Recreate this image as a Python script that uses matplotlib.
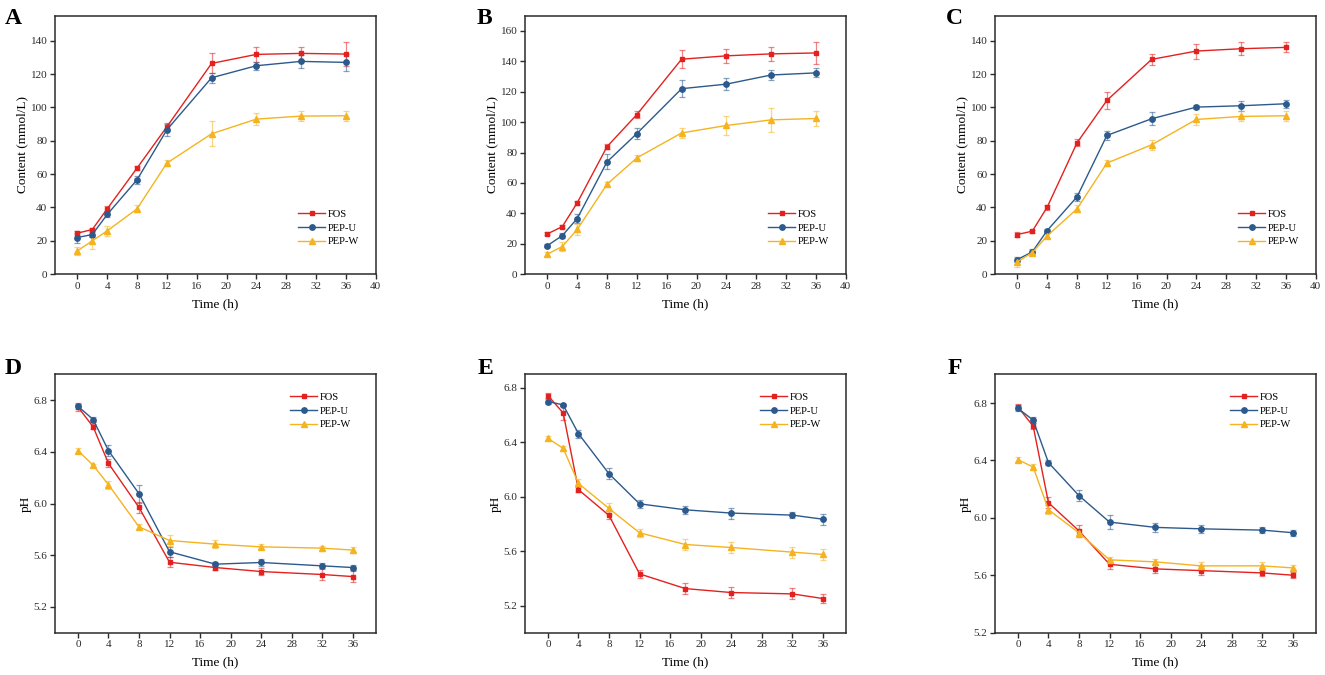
import matplotlib
matplotlib.use("Agg")
import matplotlib.pyplot as plt
from matplotlib.ticker import FormatStrFormatter

plt.rcParams['font.family'] = ['Liberation Serif', 'DejaVu Serif']

series_names = ["FOS", "PEP-U", "PEP-W"]
colors = ["#E3211F", "#2C5A8C", "#F5B320"]
markers = ["s", "o", "^"]
msizes = [3.3, 3.9, 4.0]

# Content panels (A, B, C)
t_content = [0, 2, 4, 8, 12, 18, 24, 30, 36]
A_fos = [24.6, 26.8, 39.2, 63.6, 88.4, 126.4, 131.8, 132.4, 132.0]
A_fos_err = [1.2, 1.0, 1.5, 1.2, 2.0, 6.0, 4.6, 4.0, 7.0]
A_u = [22.0, 23.8, 35.8, 56.6, 86.6, 117.8, 125.0, 127.6, 127.0]
A_u_err = [3.0, 1.5, 1.5, 2.5, 3.5, 3.0, 2.5, 4.0, 5.0]
A_w = [14.0, 20.0, 26.0, 39.2, 66.6, 84.2, 93.0, 94.8, 95.0]
A_w_err = [2.5, 5.0, 3.0, 2.0, 2.0, 7.5, 3.5, 3.0, 3.0]

B_fos = [26.5, 31.3, 46.9, 83.9, 105.0, 141.4, 143.6, 144.9, 145.5]
B_fos_err = [1.0, 1.0, 1.2, 1.5, 2.0, 6.0, 4.6, 4.6, 7.5]
B_u = [18.8, 25.4, 36.6, 73.9, 92.5, 122.0, 125.0, 131.0, 132.4]
B_u_err = [1.0, 1.5, 3.0, 5.0, 3.5, 5.5, 4.0, 3.0, 3.0]
B_w = [13.2, 18.2, 29.4, 59.2, 76.5, 92.9, 97.8, 101.5, 102.4]
B_w_err = [1.5, 3.0, 3.5, 1.5, 2.0, 3.5, 6.0, 8.0, 5.0]

C_fos = [23.8, 25.8, 40.2, 78.8, 104.2, 128.8, 133.8, 135.2, 136.0]
C_fos_err = [1.5, 1.0, 1.5, 2.0, 5.0, 3.5, 4.5, 4.0, 3.0]
C_u = [8.8, 13.4, 26.2, 46.4, 83.2, 93.2, 100.2, 101.0, 102.2]
C_u_err = [1.5, 1.5, 1.0, 2.5, 2.5, 4.0, 1.0, 3.0, 2.5]
C_w = [7.4, 13.0, 23.0, 39.2, 66.6, 77.6, 92.8, 94.6, 95.0]
C_w_err = [3.0, 1.5, 1.5, 2.0, 2.0, 3.0, 3.5, 3.0, 3.0]

# pH panels (D, E, F)
t_ph = [0, 2, 4, 8, 12, 18, 24, 32, 36]
D_fos = [6.748, 6.593, 6.311, 5.970, 5.546, 5.505, 5.474, 5.451, 5.435]
D_fos_err = [0.03, 0.02, 0.03, 0.04, 0.04, 0.02, 0.03, 0.04, 0.04]
D_u = [6.753, 6.650, 6.410, 6.076, 5.627, 5.531, 5.544, 5.518, 5.505]
D_u_err = [0.02, 0.02, 0.04, 0.07, 0.04, 0.02, 0.03, 0.02, 0.02]
D_w = [6.410, 6.296, 6.146, 5.820, 5.714, 5.686, 5.665, 5.655, 5.640]
D_w_err = [0.02, 0.01, 0.03, 0.02, 0.045, 0.03, 0.02, 0.02, 0.02]

E_fos = [6.744, 6.616, 6.052, 5.863, 5.433, 5.325, 5.296, 5.286, 5.252]
E_fos_err = [0.02, 0.05, 0.02, 0.03, 0.03, 0.04, 0.04, 0.04, 0.03]
E_u = [6.700, 6.675, 6.464, 6.169, 5.948, 5.904, 5.880, 5.865, 5.835]
E_u_err = [0.02, 0.01, 0.03, 0.04, 0.03, 0.03, 0.04, 0.02, 0.04]
E_w = [6.429, 6.356, 6.098, 5.914, 5.735, 5.649, 5.627, 5.593, 5.576]
E_w_err = [0.02, 0.02, 0.03, 0.04, 0.03, 0.04, 0.04, 0.04, 0.04]

F_fos = [6.772, 6.639, 6.106, 5.910, 5.677, 5.645, 5.633, 5.617, 5.601]
F_fos_err = [0.02, 0.02, 0.04, 0.04, 0.03, 0.03, 0.03, 0.02, 0.02]
F_u = [6.763, 6.681, 6.385, 6.155, 5.971, 5.934, 5.924, 5.915, 5.897]
F_u_err = [0.02, 0.02, 0.02, 0.04, 0.05, 0.03, 0.03, 0.02, 0.02]
F_w = [6.406, 6.354, 6.057, 5.896, 5.708, 5.694, 5.666, 5.666, 5.652]
F_w_err = [0.02, 0.02, 0.03, 0.03, 0.02, 0.02, 0.03, 0.03, 0.02]

panels = [
    ("A", t_content, [(A_fos, A_fos_err), (A_u, A_u_err), (A_w, A_w_err)], (0, 155), list(range(0, 141, 20)), "Content (mmol/L)", (-3, 40), list(range(0, 41, 4)), "lower right"),
    ("B", t_content, [(B_fos, B_fos_err), (B_u, B_u_err), (B_w, B_w_err)], (0, 170), list(range(0, 161, 20)), "Content (mmol/L)", (-3, 40), list(range(0, 41, 4)), "lower right"),
    ("C", t_content, [(C_fos, C_fos_err), (C_u, C_u_err), (C_w, C_w_err)], (0, 155), list(range(0, 141, 20)), "Content (mmol/L)", (-3, 40), list(range(0, 41, 4)), "lower right"),
    ("D", t_ph, [(D_fos, D_fos_err), (D_u, D_u_err), (D_w, D_w_err)], (5.0, 7.0), [5.2, 5.6, 6.0, 6.4, 6.8], "pH", (-3, 39), list(range(0, 37, 4)), "upper right"),
    ("E", t_ph, [(E_fos, E_fos_err), (E_u, E_u_err), (E_w, E_w_err)], (5.0, 6.9), [5.2, 5.6, 6.0, 6.4, 6.8], "pH", (-3, 39), list(range(0, 37, 4)), "upper right"),
    ("F", t_ph, [(F_fos, F_fos_err), (F_u, F_u_err), (F_w, F_w_err)], (5.2, 7.0), [5.2, 5.6, 6.0, 6.4, 6.8], "pH", (-3, 39), list(range(0, 37, 4)), "upper right"),
]

fig = plt.figure(figsize=(13.25, 6.75), dpi=100)
W, H = 1325.0, 675.0
lefts = [55, 525, 995]
tops = [15.7, 374.3]
aw, ah = 320.7, 258.5
label_pos = [(5, 8), (477, 8), (946, 8), (5, 358), (478, 358), (948, 358)]

spine_col = "#2b2b2b"
for i, (lab, t, data, ylim, yticks, ylabel, xlim, xticks, legloc) in enumerate(panels):
    r, c = divmod(i, 3)
    ax = fig.add_axes([lefts[c] / W, 1 - (tops[r] + ah) / H, aw / W, ah / H])
    for k, (vals, errs) in enumerate(data):
        ax.errorbar(t, vals, yerr=errs, fmt='none', ecolor=colors[k], alpha=0.55,
                    elinewidth=0.9, capsize=2.0, capthick=0.9, zorder=2)
        ax.plot(t, vals, color=colors[k], marker=markers[k], markersize=msizes[k],
                linewidth=1.0, label=series_names[k], zorder=3)
    ax.set_xlim(*xlim)
    ax.set_ylim(*ylim)
    ax.set_xticks(xticks)
    ax.set_yticks(yticks)
    if ylabel == "pH":
        ax.yaxis.set_major_formatter(FormatStrFormatter('%.1f'))
    ax.tick_params(direction='out', length=3.5, width=1.0, labelsize=8, colors=spine_col, pad=2)
    for s in ax.spines.values():
        s.set_linewidth(1.1)
        s.set_color(spine_col)
    ax.set_xlabel("Time (h)", fontsize=9.5, labelpad=5)
    ax.set_ylabel(ylabel, fontsize=9.5, labelpad=1.5)
    if legloc == "lower right":
        ax.legend(loc="lower right", bbox_to_anchor=(0.962, 0.092), frameon=False, fontsize=7.6,
                  handlelength=2.5, handletextpad=0.3, labelspacing=0.4, borderaxespad=0)
    else:
        ax.legend(loc="upper right", bbox_to_anchor=(0.937, 0.945), frameon=False, fontsize=7.6,
                  handlelength=2.5, handletextpad=0.3, labelspacing=0.4, borderaxespad=0)
    lx, ly = label_pos[i]
    fig.text(lx / W, 1 - ly / H, lab, fontsize=17, fontweight='bold', ha='left', va='top')

fig.savefig("out.png", dpi=100)
